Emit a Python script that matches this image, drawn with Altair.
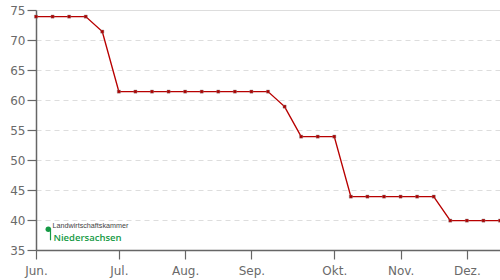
import altair as alt
import pandas as pd

# weekly price series (index = week number from start of June)
weeks = list(range(29))
prices = [73.9, 73.9, 73.9, 73.9, 71.4,
          61.4, 61.4, 61.4, 61.4, 61.4, 61.4, 61.4, 61.4, 61.4, 61.4,
          58.9, 53.9, 53.9, 53.9,
          43.9, 43.9, 43.9, 43.9, 43.9, 43.9,
          39.9, 39.9, 39.9, 39.9]

month_pos = [0, 5, 9, 13, 18, 22, 26]
month_labels = ["Jun.", "Jul.", "Aug.", "Sep.", "Okt.", "Nov.", "Dez."]
y_ticks = [35, 40, 45, 50, 55, 60, 65, 70, 75]

df = pd.DataFrame({"week": weeks, "price": prices})

label_expr = ""
for p, l in zip(month_pos, month_labels):
    label_expr += f"datum.value == {p} ? '{l}' : "
label_expr += "''"

axis_common = dict(
    domainColor="#666", domainWidth=1.5, tickColor="#666", tickWidth=1.2,
    tickSize=9, labelColor="#6a6a6a", labelFont="DejaVu Sans", labelFontSize=12,
    title=None,
)

x = alt.X("week:Q",
          scale=alt.Scale(domain=[0, 28], nice=False, zero=False),
          axis=alt.Axis(values=month_pos, labelExpr=label_expr, grid=False,
                        labelPadding=6, labelFlush=False, **axis_common))
y = alt.Y("price:Q",
          scale=alt.Scale(domain=[35, 75], nice=False, zero=False),
          axis=alt.Axis(values=y_ticks, grid=True, gridColor="#dddddd",
                        gridDash=[5, 4], gridWidth=1, labelPadding=2,
                        **axis_common))

base = alt.Chart(df)
line = base.mark_line(color="#b80000", strokeWidth=1.4).encode(x=x, y=y)
pts = base.mark_square(color="#b00000", size=10, opacity=1,
                       stroke="#888", strokeWidth=0.4).encode(x=x, y=y)

logo_df = pd.DataFrame({"a": [0]})
logo_dot = alt.Chart(logo_df).mark_circle(color="#159a45", size=30, opacity=1).encode(
    x=alt.value(12.3), y=alt.value(219.3))
logo_stem = alt.Chart(logo_df).mark_rule(color="#159a45", strokeWidth=1.2).encode(
    x=alt.value(14.5), y=alt.value(218.5), y2=alt.value(230.3))
logo_top = alt.Chart(logo_df).mark_text(
    text="Landwirtschaftskammer", font="Liberation Sans", fontSize=7.2,
    color="#444", align="left", baseline="alphabetic").encode(
    x=alt.value(16.5), y=alt.value(218.3))
logo_bot = alt.Chart(logo_df).mark_text(
    text="Niedersachsen", font="Open Sans", fontSize=9.5, fontWeight=600,
    color="#159a45", align="left", baseline="alphabetic").encode(
    x=alt.value(17.5), y=alt.value(230.5))

chart = alt.layer(line, pts, logo_dot, logo_stem, logo_top, logo_bot).properties(
    width=464, height=240,
    padding={"left": 36, "top": 10, "right": 0, "bottom": 30},
    autosize="none",
).configure_view(stroke=None).configure(background="white")

chart.save("out.html", embed_options={"renderer": "svg", "actions": False})
